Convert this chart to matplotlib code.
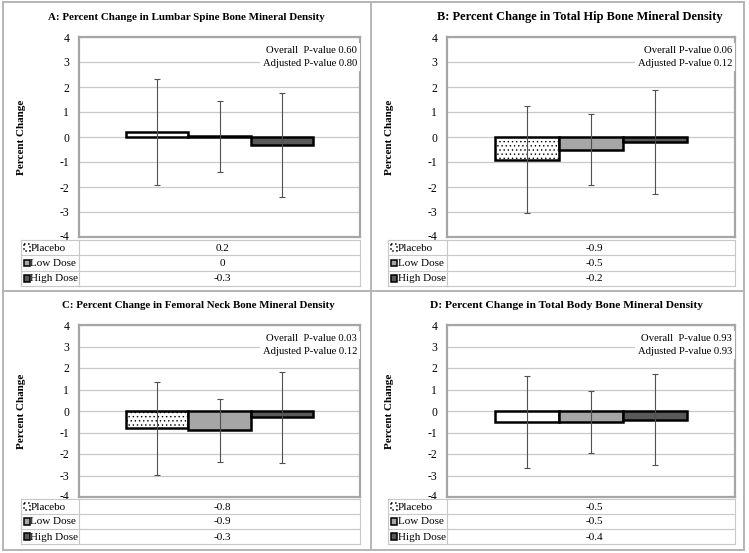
import matplotlib
matplotlib.use("Agg")
import matplotlib.pyplot as plt
import matplotlib.transforms as mtransforms
from matplotlib.patches import Rectangle
from matplotlib.lines import Line2D

plt.rcParams['font.family'] = ['Liberation Serif', 'DejaVu Serif']
plt.rcParams['hatch.color'] = '#c4c4c4'
plt.rcParams['hatch.linewidth'] = 0.5

W, H = 749, 553

series = ["Placebo", "Low Dose", "High Dose"]
titles = ["A: Percent Change in Lumbar Spine Bone Mineral Density",
          "B: Percent Change in Total Hip Bone Mineral Density",
          "C: Percent Change in Femoral Neck Bone Mineral Density",
          "D: Percent Change in Total Body Bone Mineral Density"]
means_A = [0.2, 0.03, -0.3]
err_A = [2.13, 1.42, 2.08]
means_B = [-0.9, -0.5, -0.2]
err_B = [2.14, 1.42, 2.08]
means_C = [-0.8, -0.9, -0.3]
err_C = [2.17, 1.45, 2.1]
means_D = [-0.5, -0.5, -0.4]
err_D = [2.15, 1.44, 2.1]
overall_labels = ["Overall  P-value 0.60", "Overall P-value 0.06",
                  "Overall  P-value 0.03", "Overall  P-value 0.93"]
adjusted_labels = ["Adjusted P-value 0.80", "Adjusted P-value 0.12",
                   "Adjusted P-value 0.12", "Adjusted P-value 0.93"]
yticks = [-4, -3, -2, -1, 0, 1, 2, 3, 4]

means_all = [means_A, means_B, means_C, means_D]
errs_all = [err_A, err_B, err_C, err_D]

fills = ["white", "#a6a6a6", "#595959"]
placebo_hatch = [None, "....", "....", None]
title_sizes = [7.95, 8.9, 7.8, 8.25]

# pixel layout
layout = [
    dict(ax=(79, 37, 360, 237), tab=(21, 240, 79, 360, 286), ylab_x=22, title=(186, 17)),
    dict(ax=(447, 37, 735, 237), tab=(388, 240, 447, 735, 286), ylab_x=390, title=(580, 17)),
    dict(ax=(79, 325, 360, 497), tab=(21, 499, 79, 360, 544), ylab_x=22, title=(198, 305)),
    dict(ax=(447, 325, 735, 497), tab=(388, 499, 447, 735, 544), ylab_x=390, title=(567, 305)),
]

fig = plt.figure(figsize=(W / 100, H / 100), dpi=100)


def fx(x):
    return x / W


def fy(y):
    return 1 - y / H


grid_c = "#c8c8c8"
frame_c = "#a6a6a6"

for i in range(4):
    L = layout[i]
    x0, y0, x1, y1 = L["ax"]
    ax = fig.add_axes([fx(x0), fy(y1), (x1 - x0) / W, (y1 - y0) / H])
    ax.set_xlim(-0.75, 0.75)
    ax.set_ylim(-4, 4)
    ax.set_yticks(yticks)
    ax.set_yticklabels([str(t) for t in yticks], fontsize=8.4)
    ax.set_xticks([])
    ax.tick_params(axis='y', length=0, pad=7)
    up = mtransforms.ScaledTranslation(0, 2 / 100, fig.dpi_scale_trans)
    for lab in ax.get_yticklabels():
        if lab.get_text() == "-4":
            lab.set_transform(lab.get_transform() + up)
    for t in yticks:
        ax.axhline(t, color=grid_c, lw=0.9, zorder=0)
    for s in ax.spines.values():
        s.set_color(frame_c)
        s.set_linewidth(1.6)
    pos = [-1 / 3, 0, 1 / 3]
    for j in range(3):
        hatch = placebo_hatch[i] if j == 0 else None
        ax.bar(pos[j], means_all[i][j], width=1 / 3, color=fills[j],
               edgecolor="black", linewidth=1.8, zorder=2, hatch=hatch)
        ax.errorbar(pos[j], means_all[i][j], yerr=errs_all[i][j], fmt='none',
                    ecolor="#505050", elinewidth=0.8, capsize=2.2, capthick=0.8, zorder=3)
    # p-value box
    hpx = y1 - y0
    ax.text(0.99, 1 - 9 / hpx, overall_labels[i] + "\n" + adjusted_labels[i],
            transform=ax.transAxes, ha='right', va='top', fontsize=7.7,
            linespacing=1.55,
            bbox=dict(facecolor='white', edgecolor='none', pad=2.0), zorder=4)
    # y label
    fig.text(fx(L["ylab_x"]), fy((y0 + y1) / 2), "Percent Change", rotation=90,
             ha='center', va='center', fontsize=8, fontweight='bold')
    # title
    fig.text(fx(L["title"][0]), fy(L["title"][1]), titles[i], ha='center',
             va='center', fontsize=title_sizes[i], fontweight='bold')
    # table
    tl, tt, td, tr, tb = L["tab"]
    tax = fig.add_axes([fx(tl), fy(tb), (tr - tl) / W, (tb - tt) / H])
    tax.set_xlim(tl, tr)
    tax.set_ylim(tb, tt)
    tax.axis('off')
    rh = (tb - tt) / 3
    for k in range(4):
        tax.plot([tl, tr], [tt + k * rh, tt + k * rh], color=grid_c, lw=0.8, clip_on=False)
    for xx in (tl, td, tr):
        tax.plot([xx, xx], [tt, tb], color=grid_c, lw=0.8, clip_on=False)
    for j in range(3):
        yc = tt + (j + 0.5) * rh
        ls = ':' if j == 0 else '-'
        tax.add_patch(Rectangle((tl + 2.5, yc - 3.2), 6, 6.4, facecolor=fills[j],
                                edgecolor='black', lw=1.1, linestyle=ls, clip_on=False))
        tax.text(tl + 9.5, yc + 0.5, series[j], ha='left', va='center', fontsize=8)
        v = round(means_all[i][j], 1)
        tax.text((td + tr) / 2 + 3, yc + 0.5, f"{v:g}", ha='center', va='center', fontsize=8)

# panel borders
border_c = "#b4b4b4"
for xx in (3, 371, 744):
    fig.add_artist(Line2D([fx(xx), fx(xx)], [fy(2), fy(550)], color=border_c, lw=1.4))
for yy in (2, 291, 550):
    fig.add_artist(Line2D([fx(3), fx(744)], [fy(yy), fy(yy)], color=border_c, lw=1.4))

fig.savefig("out.png", dpi=100)
